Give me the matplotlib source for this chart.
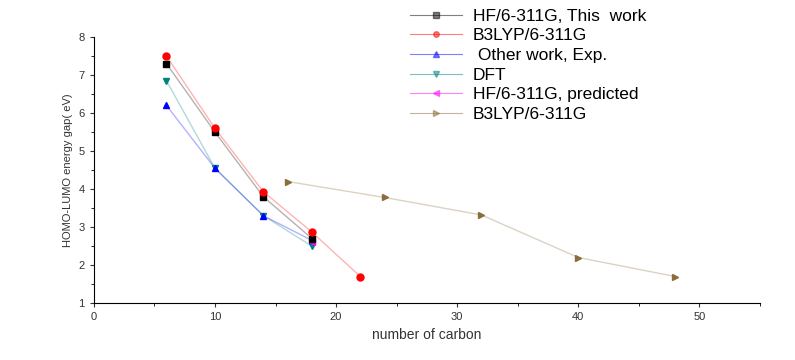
import matplotlib.pyplot as plt

plt.rcParams['font.family'] = ['Liberation Sans', 'DejaVu Sans']

# data
hf_x = [6, 10, 14, 18]
hf_y = [7.3, 5.5, 3.8, 2.7]
b3_x = [6, 10, 14, 18, 22]
b3_y = [7.5, 5.6, 3.93, 2.87, 1.7]
exp_x = [6, 10, 14, 18]
exp_y = [6.2, 4.55, 3.3, 2.65]
dft_x = [6, 10, 14, 18]
dft_y = [6.85, 4.55, 3.3, 2.5]
pred_x = [18]
pred_y = [2.6]
b3p_x = [16, 24, 32, 40, 48]
b3p_y = [4.2, 3.78, 3.32, 2.2, 1.7]

fig = plt.figure(figsize=(7.95, 3.6), dpi=100)
ax = fig.add_axes([0.118, 0.158, 0.838, 0.739])

series = [
    (hf_x, hf_y, 'black', 's', 'HF/6-311G, This  work'),
    (b3_x, b3_y, 'red', 'o', 'B3LYP/6-311G'),
    (exp_x, exp_y, 'blue', '^', ' Other work, Exp.'),
    (dft_x, dft_y, '#008080', 'v', 'DFT'),
    (pred_x, pred_y, 'magenta', '<', 'HF/6-311G, predicted'),
    (b3p_x, b3p_y, '#8a6d3b', '>', 'B3LYP/6-311G'),
]

# draw B3LYP/HF last so they sit on top as in the reference
order = [3, 2, 4, 0, 1, 5]
handles = [None] * len(series)
for i in order:
    x, y, c, m, lab = series[i]
    ax.plot(x, y, '-', color=c, lw=1.0, alpha=0.3, zorder=2)
    ax.plot(x, y, linestyle='none', marker=m, color=c, ms=5, zorder=3)
    h, = ax.plot([], [], '-', color=c, lw=0.8, alpha=0.5, marker=m, ms=4,
                 mfc=c, mec=c)
    handles[i] = h

ax.set_xlim(0, 55)
ax.set_ylim(1, 8)
ax.set_xticks([0, 10, 20, 30, 40, 50])
ax.set_xticks([5, 15, 25, 35, 45, 55], minor=True)
ax.set_yticks(range(1, 9))
ax.set_yticks([1.5, 2.5, 3.5, 4.5, 5.5, 6.5, 7.5], minor=True)
ax.spines['top'].set_visible(False)
ax.spines['right'].set_visible(False)
ax.tick_params(labelsize=8, colors='#333333', length=3)
ax.tick_params(which='minor', length=2)
ax.set_xlabel('number of carbon', fontsize=10, color='#333333')
ax.set_ylabel('HOMO-LUMO energy gap( eV)', fontsize=8, color='#333333')

fig.legend(handles, [s[4] for s in series], loc='upper left',
           bbox_to_anchor=(0.505, 1.0), frameon=False, fontsize=12.5,
           labelspacing=0.26, handlelength=3.0, handletextpad=0.6,
           borderaxespad=0.1)

fig.savefig('out.png', dpi=100)
